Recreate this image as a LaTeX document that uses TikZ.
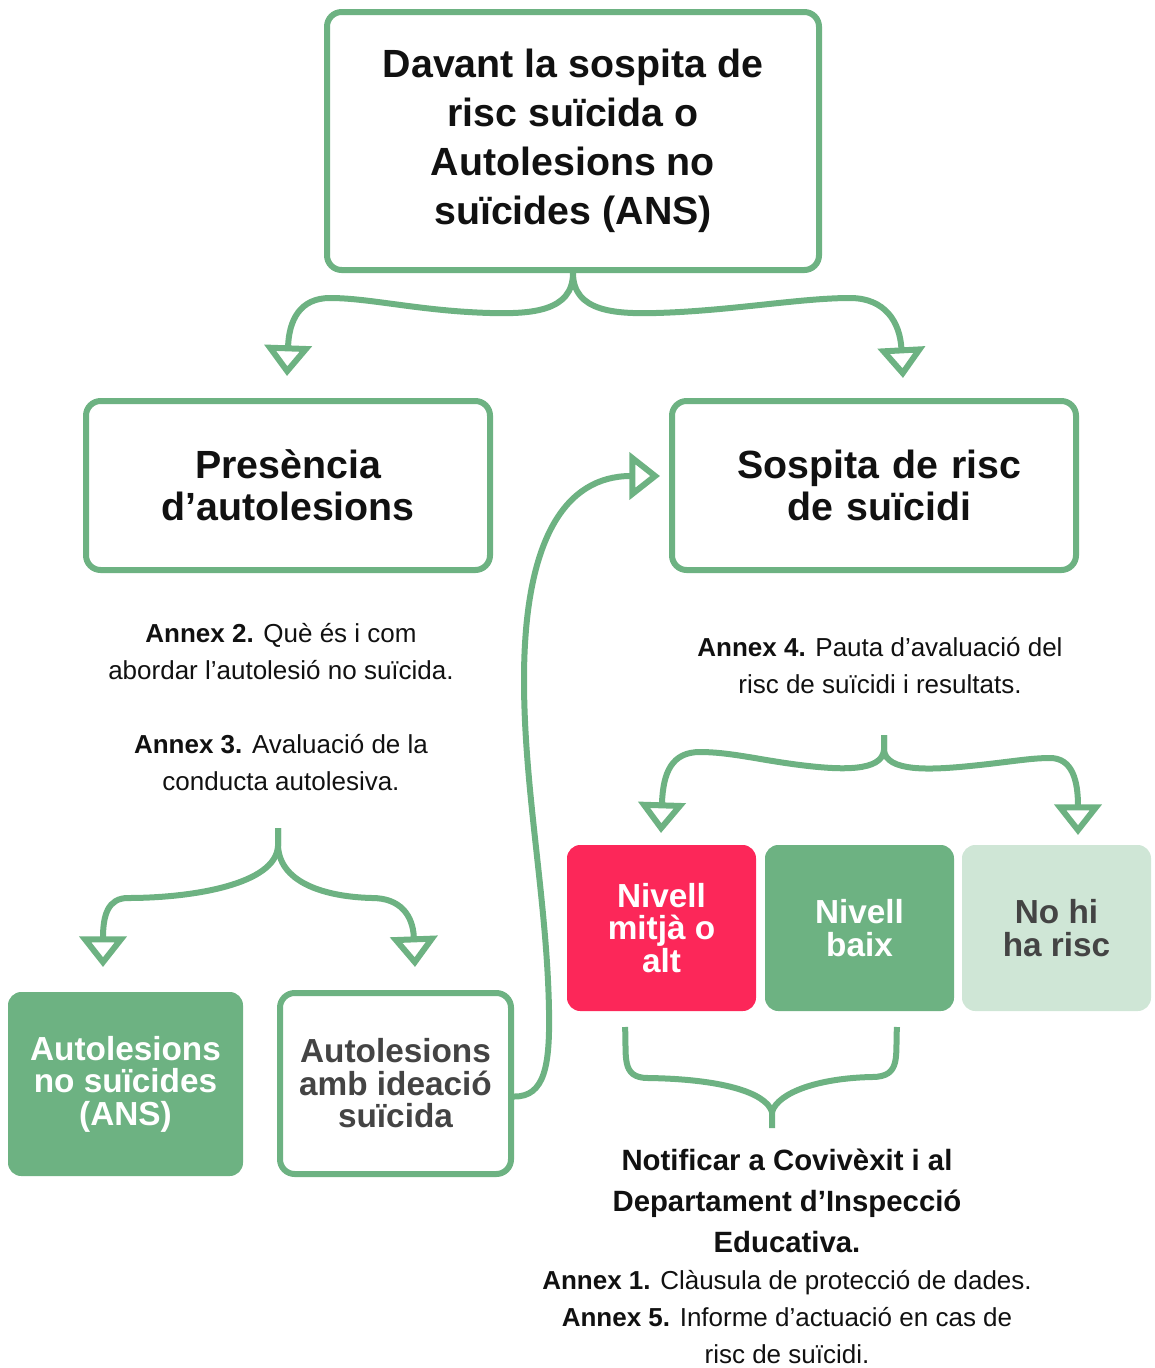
\documentclass[tikz,border=0pt]{standalone}
\usepackage{fontspec}
\setmainfont{Liberation Sans}
\usetikzlibrary{arrows.meta}
\definecolor{vgreen}{HTML}{6DB282}
\definecolor{vred}{HTML}{FC2759}
\definecolor{vlight}{HTML}{CFE6D6}
\definecolor{vgray}{HTML}{444444}
\definecolor{vtext}{HTML}{111111}
\begin{document}
\begin{tikzpicture}[x=0.75pt,y=-0.75pt,
  conn/.style={draw=vgreen, line width=4.5pt, line cap=butt},
  arr/.style={-{Triangle[open,width=35pt,length=23pt]}},
  obox/.style={draw=vgreen, line width=4.5pt, rounded corners=11pt, fill=white, align=center, inner sep=0pt},
  fbox/.style={rounded corners=10pt, align=center, inner sep=0pt},
  head/.style={font=\fontsize{29.5}{31.5}\selectfont\bfseries, text=vtext},
  small/.style={font=\fontsize{25}{24.4}\selectfont\bfseries},
  note/.style={align=center, font=\fontsize{19.5}{27.75}\selectfont, text=vtext},
]
\useasboundingbox (0,0) rectangle (1154,1368);

\node[obox, head, font=\fontsize{29.5}{36.75}\selectfont\bfseries, minimum width=369pt, minimum height=193.5pt] (title) at (573,141) {Davant la sospita de\\risc suïcida o\\Autolesions no\\suïcides (ANS)};
\node[obox, head, minimum width=303pt, minimum height=126.75pt] (pres) at (288,485.5) {Presència\\d’autolesions};
\node[obox, head, minimum width=303pt, minimum height=126.75pt, text width=303pt] (sosp) at (874,485.5) {\hspace*{8pt}Sospita de risc\\\hspace*{8pt}de suïcidi};

\node[note] (a2) at (281,652) {\textbf{Annex 2.} Què és i com\\abordar l’autolesió no suïcida.};
\node[note] (a3) at (281,763) {\textbf{Annex 3.} Avaluació de la\\conducta autolesiva.};
\node[note] (a4) at (880,666) {\textbf{Annex 4.} Pauta d’avaluació del\\risc de suïcidi i resultats.};

\node[fbox, small, fill=vred, text=white, minimum width=141.75pt, minimum height=124.5pt] (lvhi) at (661.5,928) {Nivell\\mitjà o\\alt};
\node[fbox, small, fill=vgreen, text=white, minimum width=141.75pt, minimum height=124.5pt] (lvlo) at (859.5,928) {Nivell\\baix};
\node[fbox, small, fill=vlight, text=vgray, minimum width=141.75pt, minimum height=124.5pt] (lvno) at (1056.5,928) {No hi\\ha risc};

\node[fbox, small, fill=vgreen, text=white, minimum width=176.25pt, minimum height=138pt] (ans) at (125.5,1084) {Autolesions\\no suïcides\\(ANS)};
\node[obox, small, text=vgray, minimum width=173.25pt, minimum height=135.75pt] (ais) at (395.5,1083.5) {Autolesions\\amb ideació\\suïcida};

\node[align=center, font=\fontsize{22}{30.75}\selectfont\bfseries, text=vtext] (notif) at (787,1201) {Notificar a Covivèxit i al\\Departament d’Inspecció\\Educativa.};
\node[note] (a15) at (787,1317) {\textbf{Annex 1.} Clàusula de protecció de dades.\\\textbf{Annex 5.} Informe d’actuació en cas de\\risc de suïcidi.};

\coordinate (tl) at (287,376);
\coordinate (tr) at (903,378);
\coordinate (s3) at (278,828);
\coordinate (bl) at (103,967);
\coordinate (br) at (415,967);
\coordinate (s4) at (884,735);
\coordinate (ml) at (661,833);
\coordinate (mr) at (1078,835);
\coordinate (sa) at (660,476);
\coordinate (nl) at (625,1027);
\coordinate (nr) at (897,1027);
\coordinate (ns) at (772,1128);

\draw[conn,arr] (title.south) .. controls (573,312) and (530,314) .. (490,313) .. controls (420,311) and (370,298) .. (330,298) .. controls (300,298) and (289,320) .. (tl);
\draw[conn,arr] (title.south) .. controls (573,312) and (616,314) .. (656,313) .. controls (730,311) and (800,298) .. (850,298) .. controls (885,298) and (900,322) .. (tr);

\draw[conn,arr] (s3) -- (278,846) .. controls (276,885) and (190,898) .. (128,898) .. controls (108,898) and (103,915) .. (bl);
\draw[conn,arr] (s3) -- (278,846) .. controls (280,885) and (330,897) .. (372,898) .. controls (400,898) and (413,915) .. (br);

\draw[conn,arr] (s4) -- (884,750) .. controls (882,772) and (840,770) .. (800,765) .. controls (760,760) and (730,752) .. (700,752) .. controls (672,752) and (663,772) .. (ml);
\draw[conn,arr] (s4) -- (884,750) .. controls (886,772) and (930,770) .. (970,766) .. controls (1010,762) and (1030,758) .. (1050,758) .. controls (1072,758) and (1078,780) .. (mr);

\draw[conn,arr] ([yshift=-9.75pt]ais.east) .. controls (545,1097) and (550,1065) .. (549,1010) .. controls (547,900) and (524,790) .. (524,680) .. controls (524,540) and (565,476) .. (sa);

\draw[conn] (nl) .. controls (627,1055) and (620,1078) .. (648,1078) .. controls (720,1079) and (766,1092) .. (772,1112) -- (ns);
\draw[conn] (nr) .. controls (895,1055) and (902,1077) .. (872,1077) .. controls (820,1078) and (778,1092) .. (772,1112);
\end{tikzpicture}
\end{document}
